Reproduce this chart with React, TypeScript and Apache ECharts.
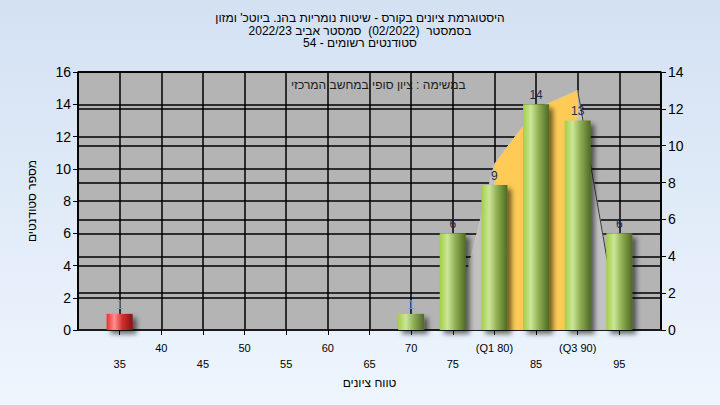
import React, { useEffect, useRef } from "react";
import * as echarts from "echarts";

const titleLines = [
  "היסטוגרמת ציונים בקורס - שיטות נומריות בהנ. ביוטכ' ומזון",
  "בסמסטר  (02/2022)  סמסטר אביב 2022/23",
  "סטודנטים רשומים - 54",
];
const noteText = "במשימה : ציון סופי במחשב המרכזי";
const xAxisName = "טווח ציונים";
const yAxisName = "מספר סטודנטים";

// histogram bins (grade range centers) and student counts
const binCenters = [35, 70, 75, 80, 85, 90, 95];
const counts = [1, 1, 6, 9, 14, 13, 6];
const failLimit = 55;

// quartile shape (right axis units)
const shapeX = [75, 80, 85, 90, 95];
const shapeY = [0, 9, 12, 13, 0];
const q1 = 80;
const q3 = 90;

const FONT = "'Liberation Sans', 'DejaVu Sans', Arial, sans-serif";

export default function App() {
  const ref = useRef<HTMLDivElement>(null);
  useEffect(() => {
    if (!ref.current) return;
    const chart = echarts.init(ref.current, undefined, { renderer: "svg" });
    const green = new echarts.graphic.LinearGradient(0, 0, 1, 0, [
      { offset: 0, color: "#a2cf45" },
      { offset: 0.3, color: "#cbe698" },
      { offset: 0.6, color: "#8fae52" },
      { offset: 1, color: "#4d6a22" },
    ]);
    const red = new echarts.graphic.LinearGradient(0, 0, 1, 0, [
      { offset: 0, color: "#f22a2a" },
      { offset: 0.3, color: "#ff8f8f" },
      { offset: 0.6, color: "#d23030" },
      { offset: 1, color: "#8a1010" },
    ]);
    const shape = shapeX.map((x, i) => [x, shapeY[i]]);
    const yellowPart = shape.filter((p) => p[0] >= q1 && p[0] <= q3);
    const tailPart = shape.filter((p) => p[0] >= q3);
    chart.setOption({
      animation: false,
      backgroundColor: new echarts.graphic.LinearGradient(0, 0, 0, 1, [
        { offset: 0, color: "#d3e1f3" },
        { offset: 1, color: "#eef5fd" },
      ]),
      textStyle: { fontFamily: FONT },
      title: {
        text: titleLines.join("\n"),
        left: "center",
        top: 7,
        textStyle: {
          fontSize: 12,
          fontWeight: "normal",
          color: "#000",
          lineHeight: 12.5,
          fontFamily: FONT,
        },
      },
      graphic: [
        {
          type: "text",
          left: 291,
          top: 79,
          style: { text: noteText, fontSize: 12, fill: "#1a1a1a", font: `12px ${FONT}` },
          z: 10,
        },
      ],
      grid: {
        left: 78,
        top: 72,
        right: 59,
        bottom: 75,
        show: true,
        backgroundColor: "#b4b4b4",
        borderColor: "#000",
        borderWidth: 1,
      },
      xAxis: {
        type: "value",
        min: 30,
        max: 100,
        interval: 5,
        name: xAxisName,
        nameLocation: "middle",
        nameGap: 45,
        nameTextStyle: { fontSize: 12, color: "#000", fontFamily: FONT },
        axisLine: { lineStyle: { color: "#222", width: 1.5 } },
        axisTick: { show: true, length: 5, lineStyle: { color: "#000" } },
        splitLine: { show: true, lineStyle: { color: "#000", width: 1.5 } },
        axisLabel: {
          fontSize: 11,
          color: "#000",
          margin: 10,
          lineHeight: 16,
          showMinLabel: false,
          showMaxLabel: false,
          formatter: (v: number) => {
            if (v === q1) return "(Q1 " + v + ")";
            if (v === q3) return "(Q3 " + v + ")";
            if (v % 10 === 5) return "\n" + v;
            return String(v);
          },
        },
      },
      yAxis: [
        {
          type: "value",
          min: 0,
          max: 16,
          interval: 2,
          name: yAxisName,
          nameLocation: "middle",
          nameGap: 40,
          nameRotate: 90,
          nameTextStyle: { fontSize: 12, color: "#000", fontFamily: FONT },
          axisLine: { show: true, lineStyle: { color: "#000", width: 1.5 } },
          axisTick: { show: true, length: 5, lineStyle: { color: "#000" } },
          splitLine: { show: true, lineStyle: { color: "#000", width: 1.5 } },
          axisLabel: { fontSize: 14, color: "#000", margin: 7 },
        },
        {
          type: "value",
          min: 0,
          max: 14,
          interval: 2,
          position: "right",
          axisLine: { show: true, lineStyle: { color: "#000", width: 1.5 } },
          axisTick: { show: true, length: 5, lineStyle: { color: "#000" } },
          splitLine: { show: true, lineStyle: { color: "#000", width: 1.5 } },
          axisLabel: { fontSize: 14, color: "#000", margin: 7 },
        },
      ],
      series: [
        {
          type: "line",
          yAxisIndex: 1,
          data: shape,
          symbol: "none",
          lineStyle: { width: 1, color: "#c8c8c8" },
          areaStyle: { color: "#c2c2c2", opacity: 1 },
          z: 1,
        },
        {
          type: "line",
          yAxisIndex: 1,
          data: yellowPart,
          symbol: "none",
          lineStyle: { width: 0 },
          areaStyle: { color: "#fecb57", opacity: 1 },
          z: 2,
        },
        {
          type: "line",
          yAxisIndex: 1,
          data: tailPart,
          symbol: "none",
          lineStyle: { width: 1, color: "#3a3a3a" },
          z: 3,
        },
        {
          type: "bar",
          yAxisIndex: 0,
          barWidth: 26,
          z: 5,
          data: binCenters.map((x, i) => ({
            value: [x, counts[i]],
            itemStyle: { color: x < failLimit ? red : green },
            label: { color: counts[i] === 1 ? "#6f9cc4" : "#1e2a50" },
          })),
          itemStyle: {
            shadowBlur: 5,
            shadowColor: "rgba(0,0,0,0.55)",
            shadowOffsetX: 4,
            shadowOffsetY: 4,
          },
          label: {
            show: true,
            position: "top",
            distance: 3,
            fontSize: 12,
            color: "#1e2a50",
            formatter: (p: any) => String(p.value[1]),
          },
        },
      ],
    });
    return () => chart.dispose();
  }, []);
  return (
    <div
      ref={ref}
      style={{ position: "absolute", left: 0, top: 0, width: 720, height: 405 }}
    />
  );
}
